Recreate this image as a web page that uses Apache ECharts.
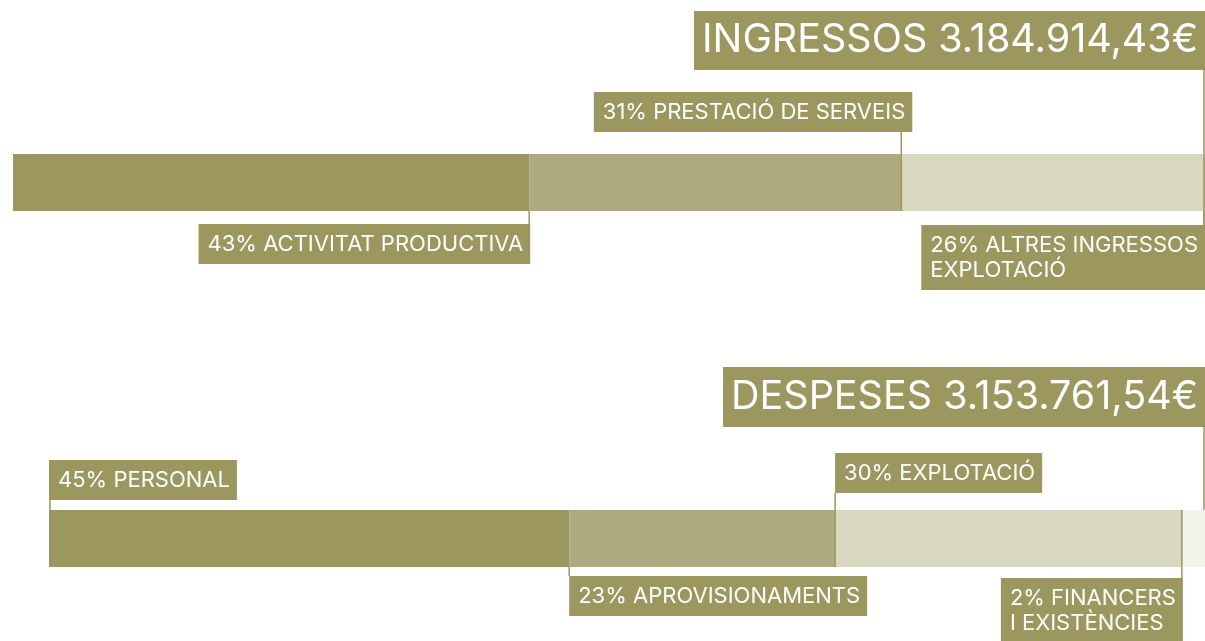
<!DOCTYPE html>
<html>
<head>
<meta charset="utf-8">
<script src="https://cdn.jsdelivr.net/npm/echarts@6/dist/echarts.min.js"></script>
<style>
html,body{margin:0;padding:0;background:#fff;}
#chart{width:1205px;height:641px;}
</style>
</head>
<body>
<div id="chart"></div>
<script>
// dades
var ingressosTitol = 'INGRESSOS 3.184.914,43€';
var ingressosNoms = ['ACTIVITAT PRODUCTIVA', 'PRESTACIÓ DE SERVEIS', 'ALTRES INGRESSOS\nEXPLOTACIÓ'];
var ingressosPct = [43, 31, 26];
var despesesTitol = 'DESPESES 3.153.761,54€';
var despesesNoms = ['PERSONAL', 'APROVISIONAMENTS', 'EXPLOTACIÓ', 'FINANCERS\nI EXISTÈNCIES'];
var despesesPct = [45, 23, 30, 2];

var colors = ['#9b975e', '#aeaa80', '#d8d8c0', '#f2f3ea'];
var olive = '#9b975e';
var font = 'Inter';
var labelSize = 22;
var pad = [8, 7, 7, 9];
var lineH = 25;

// on va cada etiqueta (costat, ancoratge, alineacio del requadre)
var ingressosLayout = [
	{side:'below', at:'end', align:'right', dx:1, gap:13},
	{side:'above', at:'end', align:'right', dx:11, gap:22, through:true},
	{side:'below', at:'end', align:'right', dx:0, gap:14, title:84, titleTo:'box'}
];
var despesesLayout = [
	{side:'above', at:'start', align:'left', dx:0, gap:10, lx:1},
	{side:'below', at:'start', align:'left', dx:0, gap:9},
	{side:'above', at:'start', align:'left', dx:0, gap:17, through:true},
	{side:'below', at:'start', align:'right', dx:1, gap:11, through:true, title:83, titleTo:'bar'}
];

var ctx = document.createElement('canvas').getContext('2d');
ctx.font = labelSize + 'px ' + font;
function textWidth(str){
	var w = 0;
	str.split('\n').forEach(function(l){ w = Math.max(w, ctx.measureText(l).width); });
	return w;
}

function segments(vals){
	var acc = 0;
	return vals.map(function(v, i){ var s = acc; acc += v; return [s, acc, i]; });
}

function labelSeries(k, noms, pcts, layout){
	return {
		type: 'custom',
		xAxisIndex: k, yAxisIndex: k,
		z: 5,
		clip: false,
		silent: true,
		data: segments(pcts),
		encode: {x: [0, 1]},
		renderItem: function(params, api){
			var i = api.value(2);
			var lay = layout[i];
			var cs = params.coordSys;
			var yt = cs.y, yb = cs.y + cs.height;
			var W = api.getWidth();
			var xs = api.coord([api.value(0), 0])[0];
			var xe = api.coord([api.value(1), 0])[0];
			var bx = lay.at === 'end' ? xe : xs;
			var anchor = Math.min(bx + lay.dx, W);
			var lineX = Math.min(bx, W - 1) + (lay.lx || 0);
			var txt = pcts[i] + '% ' + noms[i];
			var nLines = txt.split('\n').length;
			var boxW = textWidth(txt) + pad[1] + pad[3];
			var boxH = nLines * lineH + pad[0] + pad[2];
			var left = lay.align === 'right' ? anchor - boxW : anchor;
			var top = lay.side === 'below' ? yb + lay.gap : yt - lay.gap - boxH;
			var children = [];
			var y1, y2;
			if (lay.side === 'below') { y1 = lay.through ? yt : yb; y2 = top; }
			else { y1 = top + boxH; y2 = lay.through ? yb : yt; }
			children.push({type:'line', shape:{x1:lineX, y1:y1, x2:lineX, y2:y2}, style:{stroke:olive, lineWidth:1.5}});
			if (lay.title) {
				var ty2 = lay.titleTo === 'box' ? top : yt;
				children.push({type:'line', shape:{x1:W - 1, y1:yt - lay.title, x2:W - 1, y2:ty2}, style:{stroke:olive, lineWidth:1.5}});
			}
			children.push({
				type: 'text',
				x: left, y: top,
				style: {
					text: txt,
					fill: '#fff',
					font: labelSize + 'px ' + font,
					lineHeight: lineH,
					align: 'left', verticalAlign: 'top',
					backgroundColor: olive,
					padding: pad
				}
			});
			return {type:'group', children: children};
		}
	};
}

function barSeries(k, pcts, stack){
	return pcts.map(function(v, i){
		return {
			type: 'bar', xAxisIndex: k, yAxisIndex: k, stack: stack,
			barWidth: '100%', silent: true,
			itemStyle: {color: colors[i]},
			data: [v]
		};
	});
}

var titleStyle = {color:'#fff', fontSize:39.5, fontWeight:'normal', fontFamily:font, lineHeight:45};

var option = {
	animation: false,
	backgroundColor: '#fff',
	title: [
		{text: ingressosTitol, right: 0, top: 11, padding: [7,7,7,8], backgroundColor: olive, textStyle: titleStyle},
		{text: despesesTitol, right: 0, top: 367, padding: [8,7,7,8], backgroundColor: olive, textStyle: titleStyle}
	],
	grid: [
		// la barra d'ingressos surt una mica per la dreta del marc
		{left: 13, top: 154, right: 0, height: 57},
		{left: 49, top: 510, right: 0, height: 57}
	],
	xAxis: [
		{type:'value', gridIndex:0, min:0, max:99.3, show:false},
		{type:'value', gridIndex:1, min:0, max:100, show:false}
	],
	yAxis: [
		{type:'category', gridIndex:0, data:['ingressos'], show:false},
		{type:'category', gridIndex:1, data:['despeses'], show:false}
	],
	series: [].concat(
		barSeries(0, ingressosPct, 'ing'),
		barSeries(1, despesesPct, 'desp'),
		[labelSeries(0, ingressosNoms, ingressosPct, ingressosLayout),
		 labelSeries(1, despesesNoms, despesesPct, despesesLayout)]
	)
};

var myChart = echarts.init(document.getElementById('chart'));
myChart.setOption(option);
</script>
</body>
</html>
